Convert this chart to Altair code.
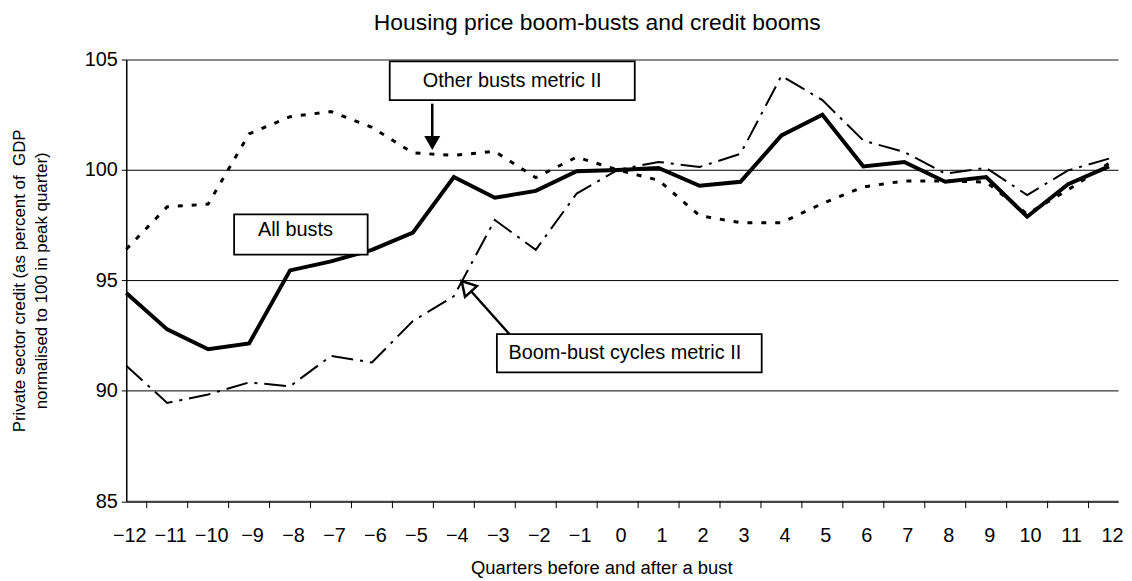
import altair as alt
import pandas as pd

# ---- data ----
quarters = list(range(-12, 13))
all_busts = [94.43, 92.78, 91.88, 92.14, 95.45, 95.86, 96.38, 97.16, 99.68, 98.74,
             99.05, 99.94, 100.0, 100.09, 99.28, 99.46, 101.56, 102.50, 100.16, 100.36,
             99.46, 99.68, 97.88, 99.35, 100.16]
other_busts = [96.41, 98.33, 98.45, 101.63, 102.41, 102.64, 101.93, 100.77, 100.66, 100.84,
               99.65, 100.58, 100.0, 99.53, 97.93, 97.61, 97.61, 98.48, 99.23, 99.50,
               99.50, 99.45, 98.0, 99.1, 100.3]
boom_bust = [91.13, 89.45, 89.83, 90.38, 90.20, 91.58, 91.28, 93.16, 94.28, 97.73,
             96.38, 98.93, 100.0, 100.36, 100.13, 100.73, 104.26, 103.16, 101.33, 100.81,
             99.83, 100.09, 98.86, 99.98, 100.51]

series_names = ["All busts", "Other busts metric II", "Boom-bust cycles metric II"]
y_ticks = [85, 90, 95, 100, 105]
tick_marks = [q + 0.5 for q in quarters[:-1]]

# annotation boxes / labels / arrows (data units)
box_x1 = [-5.566, -9.366, -2.949]
box_x2 = [0.418, -6.105, 3.518]
box_y1 = [104.91, 97.99, 92.56]
box_y2 = [103.155, 96.16, 90.83]
label_x = [-2.575, -7.868, 0.175]
label_y = [104.03, 97.26, 91.70]
label_text = ["Other busts metric II", "All busts", "Boom-bust cycles metric II"]

rows = []
for q, a, o, b in zip(quarters, all_busts, other_busts, boom_bust):
    rows.append({"q": q, "v": a, "s": series_names[0]})
    rows.append({"q": q, "v": o, "s": series_names[1]})
    rows.append({"q": q, "v": b, "s": series_names[2]})
df = pd.DataFrame(rows)

boxes = pd.DataFrame({"x1": box_x1, "x2": box_x2, "y1": box_y1, "y2": box_y2})
labels = pd.DataFrame({"x": label_x, "y": label_y, "t": label_text})
arrows = pd.DataFrame({"x": [-4.527, -2.64], "x2": [-4.527, -3.72],
                       "y": [103.0, 92.56], "y2": [101.1, 94.8]})
head_down = pd.DataFrame({"x": [-4.527], "y": [101.22]})
head_up = pd.DataFrame({"x": [-3.695], "y": [94.73]})
ticks_df = pd.DataFrame({"t": tick_marks})

W, H = 998, 444.5
FONT = "Liberation Sans"

x_scale = alt.Scale(domain=[-12, 12.22], nice=False, zero=False)
y_scale = alt.Scale(domain=[85, 105], nice=False, zero=False)

x_axis = alt.Axis(values=quarters, format="d", ticks=False, labelFontSize=20, labelFont=FONT,
                  labelColor="black", labelPadding=25, labelOffset=3,
                  domainColor="#444", domainWidth=2,
                  grid=False, title="Quarters before and after a bust", titleFontSize=18.5,
                  titleFont=FONT, titleFontWeight="normal", titleColor="black",
                  titlePadding=13, titleX=478, labelFlush=False, labelOverlap=False)
y_axis = alt.Axis(values=y_ticks, tickSize=5, tickColor="black", tickWidth=1,
                  labelFontSize=20, labelFont=FONT, labelColor="black", labelPadding=4,
                  domainColor="black", domainWidth=1.5, grid=True,
                  gridColor={"condition": {"test": "datum.value == 105", "value": "#8c8c8c"}, "value": "black"},
                  gridWidth={"condition": {"test": "datum.value == 105", "value": 2}, "value": 1},
                  title=["Private sector credit (as percent of\u00a0 GDP",
                         "normalised to 100 in peak quarter)"],
                  titleFontSize=17, titleFont=FONT, titleFontWeight="normal", titleColor="black",
                  titleLineHeight=22, titlePadding=34)

X = lambda f: alt.X(f, scale=x_scale, axis=x_axis)
Y = lambda f: alt.Y(f, scale=y_scale, axis=y_axis)

base = alt.Chart(df)
other = base.transform_filter(alt.datum.s == series_names[1]).mark_line(
    color="black", strokeWidth=3, strokeDash=[5, 9]).encode(x=X("q:Q"), y=Y("v:Q"))
boom = base.transform_filter(alt.datum.s == series_names[2]).mark_line(
    color="black", strokeWidth=2, strokeDash=[22, 7, 3, 7]).encode(x=X("q:Q"), y=Y("v:Q"))
allb = base.transform_filter(alt.datum.s == series_names[0]).mark_line(
    color="black", strokeWidth=4).encode(x=X("q:Q"), y=Y("v:Q"))

xticks = alt.Chart(ticks_df).mark_rule(color="black", strokeWidth=1).encode(
    x=X("t:Q"), y=alt.value(H), y2=alt.value(H + 7))

box_layer = alt.Chart(boxes).mark_rect(fill="white", stroke="black", strokeWidth=1.8).encode(
    x=X("x1:Q"), x2="x2:Q", y=Y("y1:Q"), y2="y2:Q")
text_layer = alt.Chart(labels).mark_text(fontSize=20, font=FONT, color="black",
                                         align="center", baseline="middle").encode(
    x=X("x:Q"), y=Y("y:Q"), text="t:N")
arrow_layer = alt.Chart(arrows).mark_rule(color="black", strokeWidth=2.5).encode(
    x=X("x:Q"), x2="x2:Q", y=Y("y:Q"), y2="y2:Q")
hd = alt.Chart(head_down).mark_point(shape="triangle-up", angle=180, size=260, filled=True,
                                     color="black", opacity=1).encode(x=X("x:Q"), y=Y("y:Q"))
hu = alt.Chart(head_up).mark_point(shape="triangle-up", angle=318, size=260, filled=True,
                                   fill="white", stroke="black", strokeWidth=2.5,
                                   opacity=1).encode(x=X("x:Q"), y=Y("y:Q"))

chart = alt.layer(other, boom, allb, xticks, box_layer, text_layer, arrow_layer, hd, hu).properties(
    width=W, height=H,
    title=alt.TitleParams("Housing price boom-busts and credit booms", fontSize=23, font=FONT,
                          fontWeight="normal", color="black", anchor="middle", frame="group",
                          dx=-25, offset=15),
    padding={"left": 2, "top": 2, "right": 0, "bottom": 0},
    background="white",
).configure_view(strokeWidth=0)

chart.save("out.html", embed_options={"renderer": "svg", "actions": False})
